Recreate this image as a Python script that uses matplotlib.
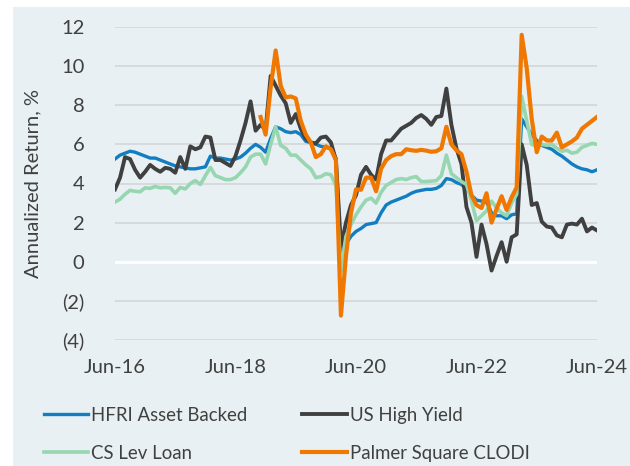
import numpy as np
import matplotlib
matplotlib.use("Agg")
import matplotlib.pyplot as plt
from matplotlib.patches import Rectangle
from matplotlib.ticker import FuncFormatter

# monthly observations, Jun-16 .. Jun-24
n_months = 97
tick_labels = ["Jun-16", "Jun-18", "Jun-20", "Jun-22", "Jun-24"]
tick_idx = [0, 24, 48, 72, 96]

hfri_asset_backed = [
    5.25, 5.45, 5.55, 5.65, 5.6, 5.5, 5.4, 5.3, 5.3, 5.2, 5.1, 5.0,
    4.9, 4.85, 4.8, 4.75, 4.75, 4.8, 4.85, 5.4, 5.3, 5.3, 5.25, 5.2,
    5.25, 5.35, 5.55, 5.8, 6.0, 5.85, 5.6, 6.3, 6.9, 6.8, 6.65, 6.6,
    6.65, 6.5, 6.15, 6.1, 6.0, 5.9, 5.85, 5.8, 5.3, 0.4, 0.9, 1.3,
    1.55, 1.7, 1.9, 1.95, 2.0, 2.5, 2.9, 3.05, 3.15, 3.25, 3.35, 3.5,
    3.6, 3.65, 3.7, 3.7, 3.75, 3.9, 4.25, 4.2, 4.05, 3.95, 3.7, 3.4,
    3.15, 3.1, 3.05, 2.5, 2.35, 2.35, 2.2, 2.4, 2.45, 7.3, 6.9, 6.5,
    6.2, 5.95, 5.85, 5.75, 5.55, 5.4, 5.2, 5.0, 4.85, 4.75, 4.7, 4.6,
    4.7,
]

us_high_yield = [
    3.7, 4.3, 5.35, 5.25, 4.7, 4.3, 4.6, 4.95, 4.75, 4.6, 4.8, 4.75,
    4.55, 5.35, 4.75, 5.9, 5.75, 5.85, 6.4, 6.35, 5.2, 5.2, 5.05, 4.9,
    5.4, 6.2, 7.1, 8.2, 6.7, 7.0, 6.75, 9.5, 9.0, 8.5, 8.1, 7.1,
    7.55, 6.8, 6.3, 6.1, 6.05, 6.35, 6.4, 6.1, 5.2, 0.8, 2.0, 2.9,
    3.4, 4.45, 4.85, 4.45, 4.2, 5.5, 6.2, 6.2, 6.5, 6.8, 6.95, 7.1,
    7.35, 7.5, 7.3, 7.0, 7.4, 7.45, 8.85, 7.0, 5.8, 5.0, 2.8, 2.0,
    0.25, 1.9, 0.9, -0.45, 0.3, 1.0, 0.0, 1.25, 1.4, 6.0, 4.95, 2.9,
    3.0, 2.05, 1.8, 1.75, 1.35, 1.25, 1.9, 1.95, 1.9, 2.2, 1.55, 1.75,
    1.6,
]

cs_lev_loan = [
    3.05, 3.2, 3.45, 3.65, 3.6, 3.58, 3.78, 3.75, 3.85, 3.78, 3.8, 3.78,
    3.5, 3.8, 3.72, 4.0, 4.15, 3.95, 4.4, 4.82, 4.4, 4.3, 4.2, 4.2,
    4.3, 4.55, 4.85, 5.35, 5.5, 5.5, 5.0, 6.0, 6.9, 5.95, 5.8, 5.45,
    5.45, 5.2, 4.95, 4.75, 4.3, 4.35, 4.5, 4.45, 3.9, -0.5, 1.3, 1.9,
    2.4, 2.8, 3.15, 3.25, 3.0, 3.55, 3.9, 4.05, 4.2, 4.25, 4.2, 4.3,
    4.35, 4.1, 4.1, 4.12, 4.15, 4.4, 5.45, 4.5, 4.3, 4.1, 3.95, 3.1,
    2.1, 2.35, 2.6, 3.1, 2.75, 2.5, 2.35, 3.0, 3.45, 8.45, 7.2, 6.0,
    5.9, 6.0, 5.95, 6.0, 5.8, 5.65, 5.7, 5.55, 5.6, 5.85, 5.95, 6.05,
    6.0,
]

# Palmer Square CLODI starts later
palmer_clodi = [None] * 29 + [
    7.4, 6.5, 8.9, 10.8, 9.0, 8.4, 8.45, 8.35, 7.2, 6.5, 6.1,
    5.35, 5.5, 5.9, 5.75, 5.2, -2.75, 0.3, 2.5, 3.7, 3.68, 4.3, 4.3,
    3.6, 4.75, 5.2, 5.4, 5.5, 5.5, 5.75, 5.7, 5.67, 5.72, 5.68, 5.62,
    5.65, 5.8, 6.9, 6.0, 5.7, 5.5, 4.6, 3.4, 2.9, 2.75, 3.5, 2.0,
    2.7, 3.35, 2.65, 3.3, 3.8, 11.6, 9.9, 7.3, 5.6, 6.4, 6.2, 6.2,
    6.6, 5.85, 6.0, 6.15, 6.35, 6.8, 7.0, 7.2, 7.4,
]

series = [
    ("HFRI Asset Backed", hfri_asset_backed, "#127dc0", 2.4),
    ("US High Yield", us_high_yield, "#404040", 2.8),
    ("CS Lev Loan", cs_lev_loan, "#96d6b0", 2.6),
    ("Palmer Square CLODI", palmer_clodi, "#f07800", 3.0),
]

plt.rcParams["font.family"] = ["Lato", "DejaVu Sans"]
txt = "#404040"
bg = "#e8f0f3"

W, H = 630, 466
fig = plt.figure(figsize=(W / 100, H / 100), dpi=100, facecolor="white")
fig.patches.append(Rectangle((13 / W, 0), 1, (H - 7) / H, transform=fig.transFigure,
                             facecolor=bg, edgecolor="none", zorder=-10))

ax = fig.add_axes([115 / W, (H - 340) / H, (597 - 115) / W, (340 - 27) / H])
ax.patch.set_visible(False)

x = np.arange(n_months)
for label, vals, color, lw in series:
    y = np.array([np.nan if v is None else v for v in vals], dtype=float)
    ax.plot(x, y, color=color, lw=lw, label=label, solid_joinstyle="round", zorder=3)

ax.set_xlim(0, 96)
ax.set_ylim(-4, 12)
ax.set_yticks(range(-4, 13, 2))
ax.yaxis.set_major_formatter(FuncFormatter(lambda v, p: f"({abs(int(v))})" if v < 0 else f"{int(v)}"))
ax.set_xticks(tick_idx)
ax.set_xticklabels(tick_labels)
ax.grid(axis="y", color="#d6dadd", lw=1.4, zorder=1)
ax.axhline(0, color="white", lw=2.2, zorder=2)
for s in ax.spines.values():
    s.set_visible(False)
ax.tick_params(length=0, labelsize=14.5, labelcolor=txt)
ax.tick_params(axis="y", pad=22)
ax.tick_params(axis="x", pad=14)
ax.set_ylabel("Annualized Return, %", fontsize=14.5, color=txt, labelpad=14)

# legend fills column-wise, so reorder to read row-wise
handles, labels = ax.get_legend_handles_labels()
order = [0, 2, 1, 3]
fig.legend([handles[i] for i in order], [labels[i] for i in order], ncol=2,
           loc="upper left", bbox_to_anchor=(27 / W, (H - 390) / H),
           frameon=False, fontsize=13.4, labelcolor=txt, handlelength=2.4,
           handletextpad=0.15, columnspacing=2.95, labelspacing=1.12)

fig.savefig("out.png", dpi=100, facecolor="white")
